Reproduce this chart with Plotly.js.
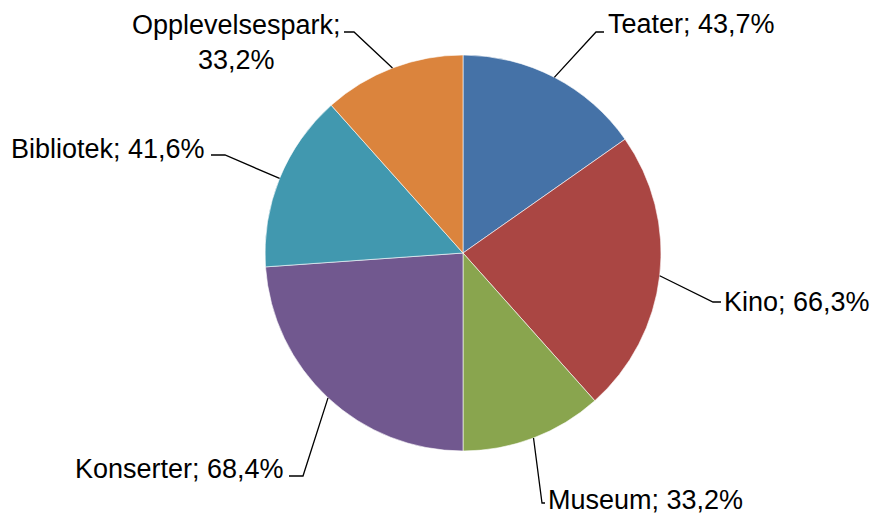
<!DOCTYPE html>
<html>
<head>
<meta charset="utf-8">
<script src="https://cdn.plot.ly/plotly-3.0.1.min.js"></script>
<style>html,body{margin:0;padding:0;background:#fff;}#chart{width:870px;height:517px;}</style>
</head>
<body>
<div id="chart"></div>
<script>
// Data
var categories = ["Teater", "Kino", "Museum", "Konserter", "Bibliotek", "Opplevelsespark"];
var values = [43.7, 66.3, 33.2, 68.4, 41.6, 33.2];
var valueLabels = ["43,7%", "66,3%", "33,2%", "68,4%", "41,6%", "33,2%"];
var colors = ["#4572A7", "#AA4643", "#89A54E", "#71588F", "#4198AF", "#DB843D"];

// Layout (pixels)
var W = 870, H = 517;
var CX = 463, CY = 253, R = 198;
// label layout: elbow point, line end, text anchor point, anchors
var labelLayout = [
  {elbow:[596,32], end:[604,32], text:[606,24], xa:"left", br:false},
  {elbow:[713,302], end:[721,302], text:[722,302], xa:"left", br:false},
  {elbow:[542,503], end:[545,503], text:[546,500], xa:"left", br:false},
  {elbow:[303,476], end:[289,476], text:[286,469], xa:"right", br:false},
  {elbow:[225,155], end:[211,155], text:[207,149], xa:"right", br:false},
  {elbow:[354,32], end:[344,32], text:[236,42], xa:"center", br:true}
];

function px(x){ return x / W; }
function py(y){ return 1 - y / H; }

var total = values.reduce(function(a,b){return a+b;},0);
var shapes = [], annotations = [];
var cum = 0;
for (var i = 0; i < values.length; i++) {
  var mid = (cum + values[i] / 2) / total * 2 * Math.PI;
  cum += values[i];
  var sx = CX + R * Math.sin(mid), sy = CY - R * Math.cos(mid);
  var L = labelLayout[i];
  shapes.push({
    type: "path", xref: "paper", yref: "paper",
    path: "M" + px(sx) + "," + py(sy) + " L" + px(L.elbow[0]) + "," + py(L.elbow[1]) + " L" + px(L.end[0]) + "," + py(L.end[1]),
    line: {color: "#000000", width: 1.3}
  });
  annotations.push({
    xref: "paper", yref: "paper",
    x: px(L.text[0]), y: py(L.text[1]),
    xanchor: L.xa, yanchor: "middle", align: "center",
    text: categories[i] + ";" + (L.br ? "<br>" : " ") + valueLabels[i],
    showarrow: false,
    font: {family: "Liberation Sans, Arial, sans-serif", size: 27, color: "#000000"}
  });
}

var trace = {
  type: "pie",
  labels: categories,
  values: values,
  sort: false,
  direction: "clockwise",
  rotation: 0,
  textinfo: "none",
  hoverinfo: "label+value",
  marker: {colors: colors, line: {color: "#ffffff", width: 0.6}},
  domain: {x: [(CX - R) / W, (CX + R) / W], y: [1 - (CY + R) / H, 1 - (CY - R) / H]},
  showlegend: false
};

var layout = {
  width: W, height: H,
  margin: {l: 0, r: 0, t: 0, b: 0},
  paper_bgcolor: "#ffffff",
  plot_bgcolor: "#ffffff",
  showlegend: false,
  shapes: shapes,
  annotations: annotations
};

Plotly.newPlot("chart", [trace], layout, {displayModeBar: false, staticPlot: true});
</script>
</body>
</html>
